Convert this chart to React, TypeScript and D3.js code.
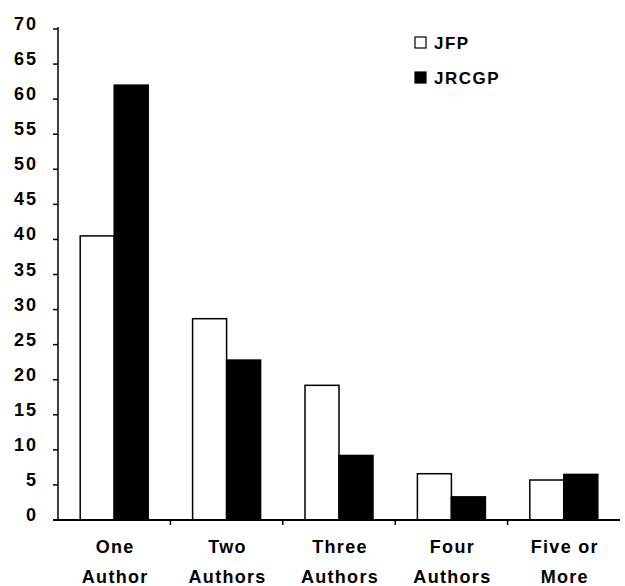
import React from "react";
import * as d3 from "d3";

const categories = [["One", "Author"], ["Two", "Authors"], ["Three", "Authors"], ["Four", "Authors"], ["Five or", "More"]];
const seriesNames = ["JFP", "JRCGP"];
const jfp = [40.5, 28.7, 19.2, 6.6, 5.7];
const jrcgp = [62, 22.8, 9.2, 3.3, 6.5];
const yTicks = [0, 5, 10, 15, 20, 25, 30, 35, 40, 45, 50, 55, 60, 65, 70];

export default function App() {
  const W = 625, H = 586;
  const x0 = 58, x1 = 620, yTop = 29, yBot = 520;
  const x = d3.scaleBand<number>().domain(d3.range(categories.length)).range([x0, x1]).paddingInner(0).paddingOuter(0);
  const y = d3.scaleLinear().domain([0, 70]).range([yBot, yTop]);
  const groupW = 68;
  const sub = d3.scaleBand<number>().domain([0, 1]).range([0, groupW]);
  const font = "'Liberation Sans', Arial, sans-serif";
  const series = [jfp, jrcgp];
  return (
    <svg width={W} height={H} style={{ position: "absolute", left: 0, top: 0 }}>
      <rect width={W} height={H} fill="#fff" />
      {series.map((vals, s) =>
        vals.map((v, i) => {
          const gx = (x(i) as number) + x.bandwidth() / 2 - groupW / 2 + (sub(s) as number);
          return (
            <rect key={`${s}-${i}`} x={gx} y={y(v)} width={sub.bandwidth()} height={yBot - y(v)}
              fill={s === 0 ? "#fff" : "#000"} stroke="#000" strokeWidth={1.5} />
          );
        })
      )}
      <line x1={x0} x2={x0} y1={y(70) - 2} y2={yBot} stroke="#000" strokeWidth={1.5} />
      <line x1={x0 - 5} x2={x1} y1={yBot} y2={yBot} stroke="#000" strokeWidth={2} />
      {yTicks.map(t => (
        <g key={t}>
          <line x1={x0 - 5} x2={x0} y1={y(t)} y2={y(t)} stroke="#000" strokeWidth={1.5} />
          <text x={38} y={y(t) + 1} textAnchor="end" fontFamily={font} fontWeight="bold" fontSize={18} letterSpacing={2} fill="#000">{t}</text>
        </g>
      ))}
      {d3.range(1, categories.length).map(i => (
        <line key={i} x1={x(i)} x2={x(i)} y1={yBot} y2={yBot + 5} stroke="#000" strokeWidth={1.5} />
      ))}
      {categories.map((c, i) => (
        <text key={i} textAnchor="middle" fontFamily={font} fontWeight="bold" fontSize={18} letterSpacing={1.3} fill="#000">
          {c.map((line, k) => (
            <tspan key={k} x={(x(i) as number) + x.bandwidth() / 2 + 1} y={553 + k * 30}>{line}</tspan>
          ))}
        </text>
      ))}
      {seriesNames.map((n, s) => (
        <g key={n}>
          <rect x={415} y={37 + s * 35} width={11} height={11} fill={s === 0 ? "#fff" : "#000"} stroke="#000" strokeWidth={1.2} />
          <text x={434} y={49 + s * 35} fontFamily={font} fontWeight="bold" fontSize={17} letterSpacing={1.5} fill="#000">{n}</text>
        </g>
      ))}
    </svg>
  );
}
